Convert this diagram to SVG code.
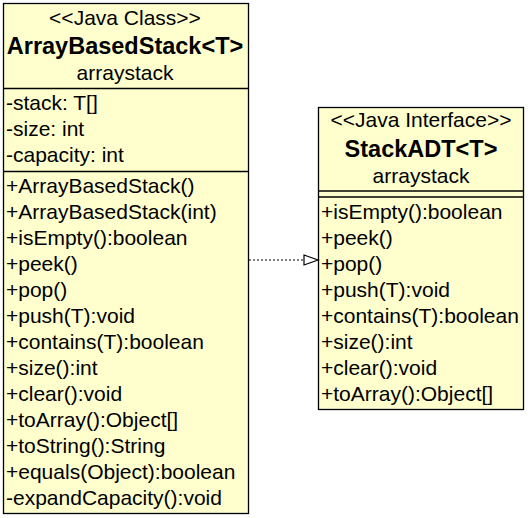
<svg xmlns="http://www.w3.org/2000/svg" width="528" height="518" viewBox="0 0 528 518">
<style>
.box{fill:#FFFFCE;stroke:#000;stroke-width:1.3}
.sep{stroke:#000;stroke-width:1.3}
text{font-family:"Liberation Sans",Arial,sans-serif;font-size:21px;fill:#000}
.c{text-anchor:middle}
.b{font-weight:bold;font-size:23.5px}
.conn{fill:none;stroke:#000;stroke-width:1;stroke-dasharray:2,2}
.head{fill:#fff;stroke:#000;stroke-width:1.2}
</style>
<rect width="528" height="518" fill="#fff"/>
<g id="ArrayBasedStack">
<rect class="box" x="3.5" y="3.5" width="245" height="510"/>
<line class="sep" x1="3.5" y1="88.5" x2="248.5" y2="88.5"/>
<line class="sep" x1="3.5" y1="171.5" x2="248.5" y2="171.5"/>
<text class="c" x="125" y="25">&lt;&lt;Java Class&gt;&gt;</text>
<text class="c b" x="125" y="54">ArrayBasedStack&lt;T&gt;</text>
<text class="c" x="125" y="80">arraystack</text>
<text x="6" y="110">-stack: T[]</text>
<text x="6" y="136">-size: int</text>
<text x="6" y="162">-capacity: int</text>
<text x="6" y="193">+ArrayBasedStack()</text>
<text x="6" y="219">+ArrayBasedStack(int)</text>
<text x="6" y="245">+isEmpty():boolean</text>
<text x="6" y="271">+peek()</text>
<text x="6" y="297">+pop()</text>
<text x="6" y="323">+push(T):void</text>
<text x="6" y="349">+contains(T):boolean</text>
<text x="6" y="375">+size():int</text>
<text x="6" y="401">+clear():void</text>
<text x="6" y="427">+toArray():Object[]</text>
<text x="6" y="453">+toString():String</text>
<text x="6" y="479">+equals(Object):boolean</text>
<text x="6" y="505">-expandCapacity():void</text>
</g>
<g id="StackADT">
<rect class="box" x="318.5" y="107.5" width="205" height="302"/>
<line class="sep" x1="318.5" y1="191" x2="523.5" y2="191"/>
<line class="sep" x1="318.5" y1="197" x2="523.5" y2="197"/>
<text class="c" x="421" y="127">&lt;&lt;Java Interface&gt;&gt;</text>
<text class="c b" x="421" y="157">StackADT&lt;T&gt;</text>
<text class="c" x="421" y="183">arraystack</text>
<text x="321" y="219">+isEmpty():boolean</text>
<text x="321" y="245">+peek()</text>
<text x="321" y="271">+pop()</text>
<text x="321" y="297">+push(T):void</text>
<text x="321" y="323">+contains(T):boolean</text>
<text x="321" y="349">+size():int</text>
<text x="321" y="375">+clear():void</text>
<text x="321" y="401">+toArray():Object[]</text>
</g>
<g id="connectors">
<line class="conn" x1="249" y1="260" x2="304" y2="260"/>
<polygon class="head" points="304,255 318,260 304,265"/>
</g>
</svg>
